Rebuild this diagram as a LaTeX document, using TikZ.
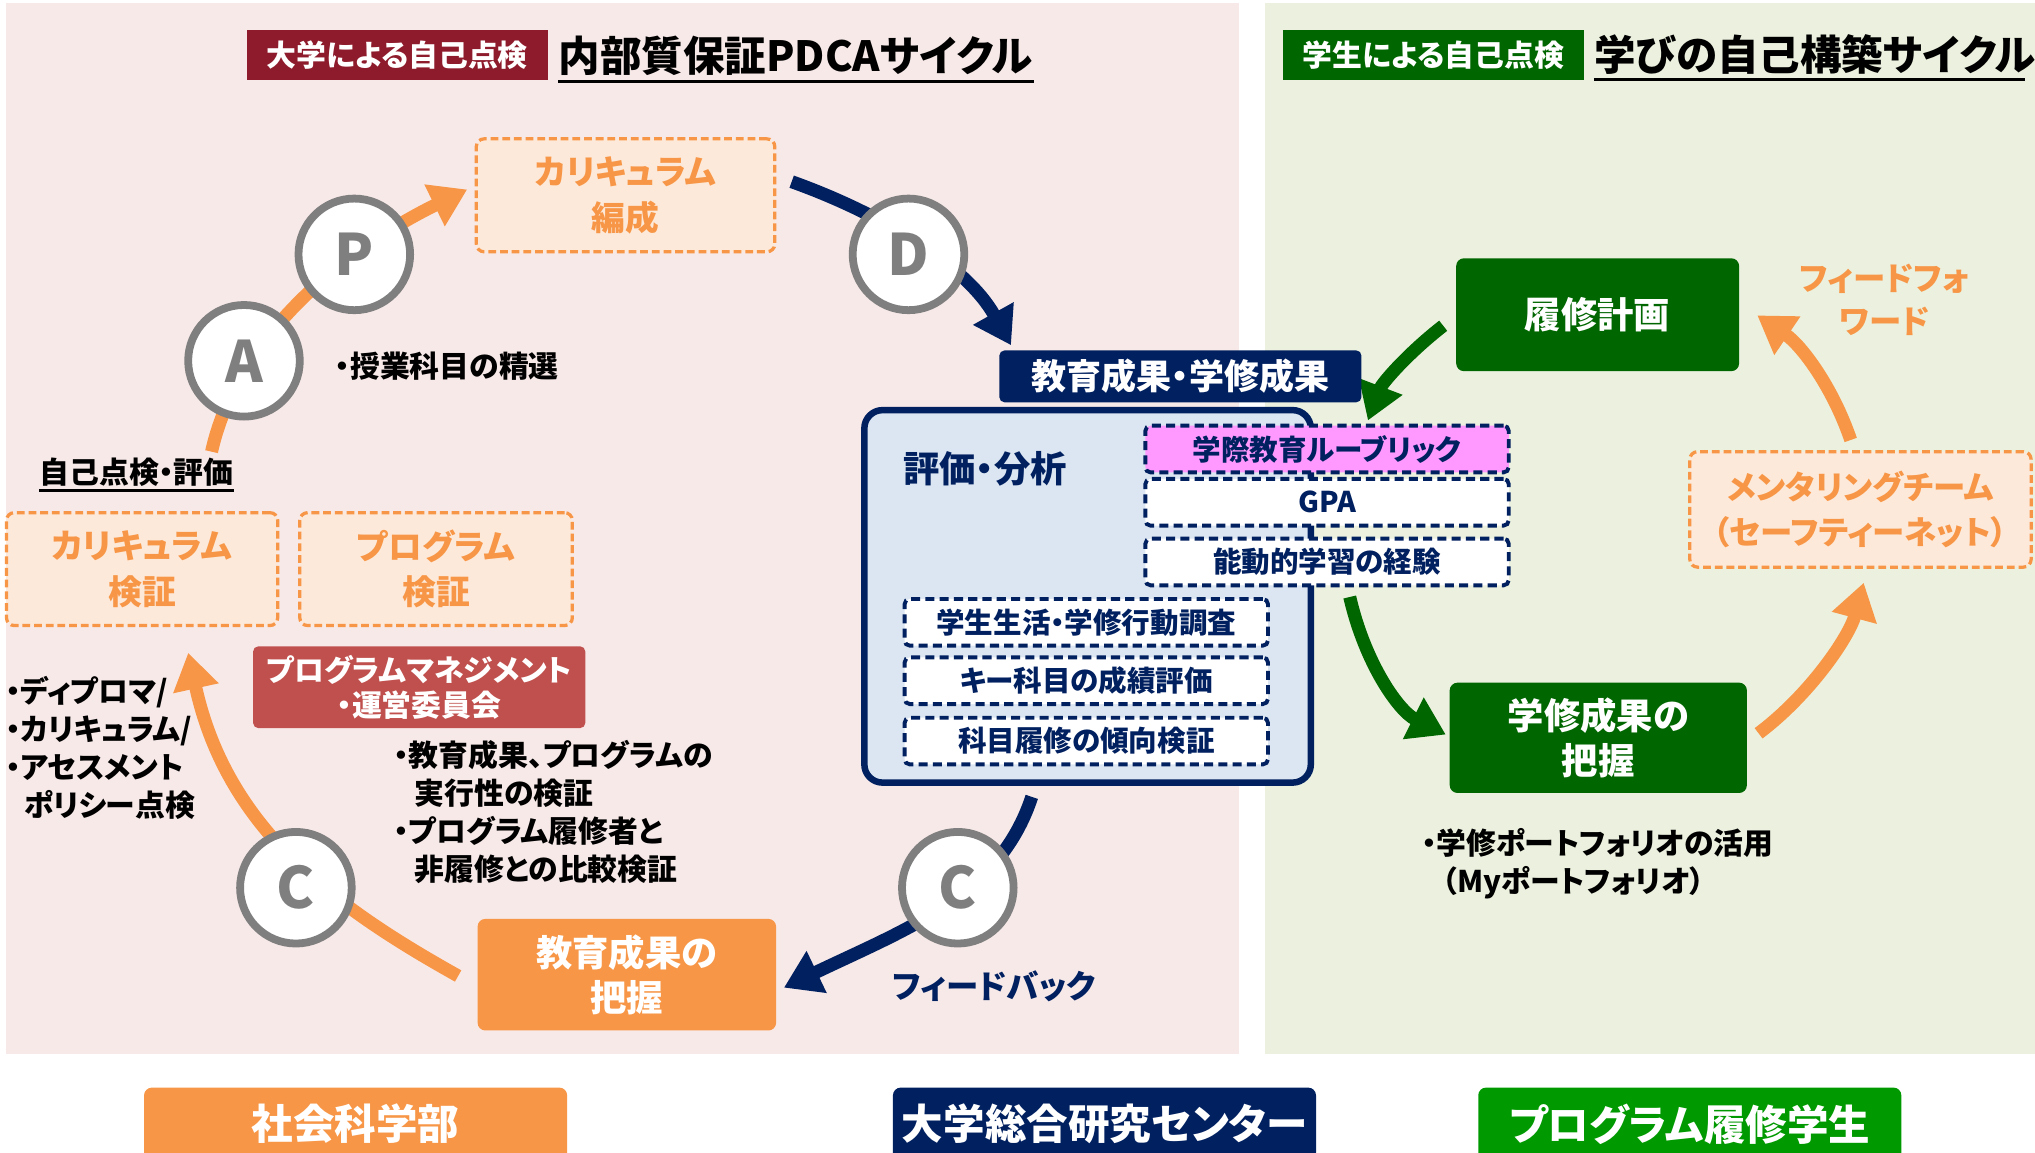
\documentclass[tikz,border=0pt]{standalone}
\usepackage{fontspec}
\setmainfont{Noto Sans CJK JP}[RawFeature=+palt]
\usetikzlibrary{arrows.meta}
\definecolor{navy}{HTML}{002060}
\definecolor{dred}{HTML}{8E1B2C}
\definecolor{dgreen}{HTML}{006600}
\definecolor{bgreen}{HTML}{009900}
\definecolor{org}{HTML}{F79646}
\definecolor{lorg}{HTML}{FDE9D9}
\definecolor{pinkbg}{HTML}{F7E9E8}
\definecolor{greenbg}{HTML}{EBF1DE}
\definecolor{lblue}{HTML}{DCE6F2}
\definecolor{rubricpink}{HTML}{FF99FF}
\definecolor{pmred}{HTML}{C0504D}
\definecolor{cgray}{HTML}{7F7F7F}
\begin{document}
\begin{tikzpicture}[x=0.5pt,y=-0.5pt,
  hdr/.style={fill=#1, text=white, minimum width=116pt, minimum height=19.5pt, inner sep=0pt, font=\bfseries\fontsize{11.5}{14}\selectfont},
  ttl/.style={inner sep=0pt, anchor=west, font=\bfseries\fontsize{16}{19}\selectfont},
  obox/.style={draw=org, fill=lorg, dash pattern=on 3pt off 1.5pt, line width=1.25pt, rounded corners=3pt, text=org, align=center, inner sep=0pt, font=\bfseries\fontsize{13}{17.5}\selectfont},
  circ/.style={circle, draw=cgray, fill=white, line width=3pt, minimum size=43pt, inner sep=0pt, text=cgray, font=\bfseries\fontsize{22}{22}\selectfont},
  btxt/.style={inner sep=0pt, align=left, font=\bfseries\fontsize{11.5}{14.6}\selectfont},
  sbox/.style={fill=#1, text=white, rounded corners=3pt, align=center, inner sep=0pt, font=\bfseries\fontsize{14}{17.5}\selectfont},
  nbox/.style={draw=navy, dash pattern=on 3.5pt off 2pt, line width=1.5pt, rounded corners=2pt, minimum width=140pt, minimum height=18pt, inner sep=0pt, text=navy, font=\bfseries\fontsize{11}{13}\selectfont},
  arr/.style={draw=#1, line width=5pt, -{Triangle[length=14pt,width=17pt]}}
]
\useasboundingbox (0,0) rectangle (1568,888);
% backgrounds
\fill[pinkbg] (5,2) rectangle (955,812);
\fill[greenbg] (975,2) rectangle (1568,812);

% headers
\node[hdr=dred] (hdrL) at (306,42.5) {大学による自己点検};
\node[ttl] (titleL) at (430,43) {内部質保証PDCAサイクル};
\draw[line width=1.2pt] (430,62.5) -- (797,62.5);
\node[hdr=dgreen] (hdrR) at (1104.5,42.5) {学生による自己点検};
\node[ttl] (titleR) at (1228,42) {学びの自己構築サイクル};
\draw[line width=1.2pt] (1228,61) -- (1560,61);

% evaluation box
\draw[navy, fill=lblue, line width=2.5pt, rounded corners=7pt] (666,316) rectangle (1010,603);
\node[inner sep=0pt, text=navy, font=\bfseries\fontsize{14}{16}\selectfont] (hyouka) at (759,361) {評価・分析};

% arrow end points
\coordinate (a1s) at (163,348); \coordinate (a1e) at (360,146);
\coordinate (a2s) at (610,140); \coordinate (a2e) at (779,266);
\coordinate (a3s) at (353,752); \coordinate (a3e) at (145,503);
\coordinate (a4s) at (795,614); \coordinate (a4e) at (604,761);
\coordinate (g1s) at (1112,251); \coordinate (g1e) at (1054,324);
\coordinate (g2s) at (1040,460); \coordinate (g2e) at (1114,566);
\coordinate (o1s) at (1355,565); \coordinate (o1e) at (1436,449);
\coordinate (o2s) at (1426,339); \coordinate (o2e) at (1354,243);

% left cycle arrows
\draw[arr=org] (a1s) .. controls (185,250) and (280,185) .. (a1e);
\draw[arr=navy] (a2s) .. controls (680,165) and (745,205) .. (a2e);
\draw[arr=org] (a3s) .. controls (260,700) and (175,640) .. (a3e);
\draw[arr=navy] (a4s) .. controls (770,690) and (700,715) .. (a4e);
% right cycle arrows
\draw[arr=dgreen] (g1s) .. controls (1085,272) and (1065,295) .. (g1e);
\draw[arr=dgreen] (g2s) .. controls (1052,512) and (1078,548) .. (g2e);
\draw[arr=org] (o1s) .. controls (1395,535) and (1425,490) .. (o1e);
\draw[arr=org] (o2s) .. controls (1412,298) and (1388,266) .. (o2e);

% circles
\node[circ] (P) at (273,196) {P};
\node[circ] (D) at (700,196) {D};
\node[circ] (A) at (188,278) {A};
\node[circ] (CL) at (228,684) {C};
\node[circ] (CR) at (738,684) {C};

% left boxes
\node[obox, minimum width=115pt, minimum height=43.5pt] (kasei) at (482,150.5) {カリキュラム\\編成};
\node[obox, minimum width=104.5pt, minimum height=43.5pt] (kenC) at (109.5,438.5) {カリキュラム\\検証};
\node[obox, minimum width=105pt, minimum height=43.5pt] (kenP) at (336,438.5) {プログラム\\検証};
\node[sbox=pmred, minimum width=128pt, minimum height=31.5pt, rounded corners=2pt, font=\bfseries\fontsize{11.5}{13.5}\selectfont] (pm) at (323,529.5) {プログラムマネジメント\\・運営委員会};
\node[sbox=org, minimum width=115pt, minimum height=43pt] (haakuL) at (483,751) {教育成果の\\把握};

% left texts
\node[btxt, anchor=west] (jugyo) at (258,282) {・授業科目の精選};
\node[btxt, anchor=west] (jiko) at (30,364) {自己点検・評価};
\draw[line width=1.2pt] (30,378) -- (jiko.east |- 0,378);
\node[btxt, anchor=north west] (dip) at (4,521) {・ディプロマ/\\・カリキュラム/\\・アセスメント\\\hspace*{7pt}ポリシー点検};
\node[btxt, anchor=north west] (kyo) at (303,570) {・教育成果、プログラムの\\\hspace*{8pt}実行性の検証\\・プログラム履修者と\\\hspace*{8pt}非履修との比較検証};
\node[btxt, text=navy, font=\bfseries\fontsize{12.5}{14}\selectfont] (fb) at (766,760) {フィードバック};

% middle
\node[sbox=navy, rounded corners=2pt, minimum width=139.5pt, minimum height=20pt, font=\bfseries\fontsize{13.5}{16}\selectfont] (seika) at (909.5,290) {教育成果・学修成果};
\node[nbox, fill=rubricpink] (rubric) at (1022.5,346) {学際教育ルーブリック};
\node[nbox, fill=white] (gpa) at (1022.5,387) {GPA};
\node[nbox, fill=white] (noudou) at (1022.5,433) {能動的学習の経験};
\node[nbox, fill=white] (gakusei) at (837,479.5) {学生生活・学修行動調査};
\node[nbox, fill=white] (key) at (837,524.5) {キー科目の成績評価};
\node[nbox, fill=white] (kamoku) at (837,571) {科目履修の傾向検証};

% right cycle
\node[sbox=dgreen, minimum width=109pt, minimum height=43.5pt] (rishu) at (1231,242.5) {履修計画};
\node[sbox=dgreen, minimum width=114.5pt, minimum height=42.5pt] (haakuR) at (1231.5,568.5) {学修成果の\\把握};
\node[obox, minimum width=131.5pt, minimum height=44.5pt, font=\bfseries\fontsize{12.5}{17.5}\selectfont] (mentor) at (1433.5,392.5) {メンタリングチーム\\（セーフティーネット）};
\node[btxt, text=org, align=center, font=\bfseries\fontsize{12.5}{16.5}\selectfont] (ff) at (1452,231) {フィードフォ\\ワード};
\node[btxt, anchor=north west] (port) at (1095,638) {・学修ポートフォリオの活用\\\hspace*{8pt}（Myポートフォリオ）};

% bottom labels
\node[sbox=org, minimum width=163pt, minimum height=28pt, font=\bfseries\fontsize{16}{18}\selectfont] (shakai) at (274,866) {社会科学部};
\node[sbox=navy, minimum width=163pt, minimum height=28pt, font=\bfseries\fontsize{16}{18}\selectfont] (center) at (851,866) {大学総合研究センター};
\node[sbox=bgreen, minimum width=163pt, minimum height=28pt, font=\bfseries\fontsize{16}{18}\selectfont] (prog) at (1302,866) {プログラム履修学生};
\end{tikzpicture}
\end{document}
